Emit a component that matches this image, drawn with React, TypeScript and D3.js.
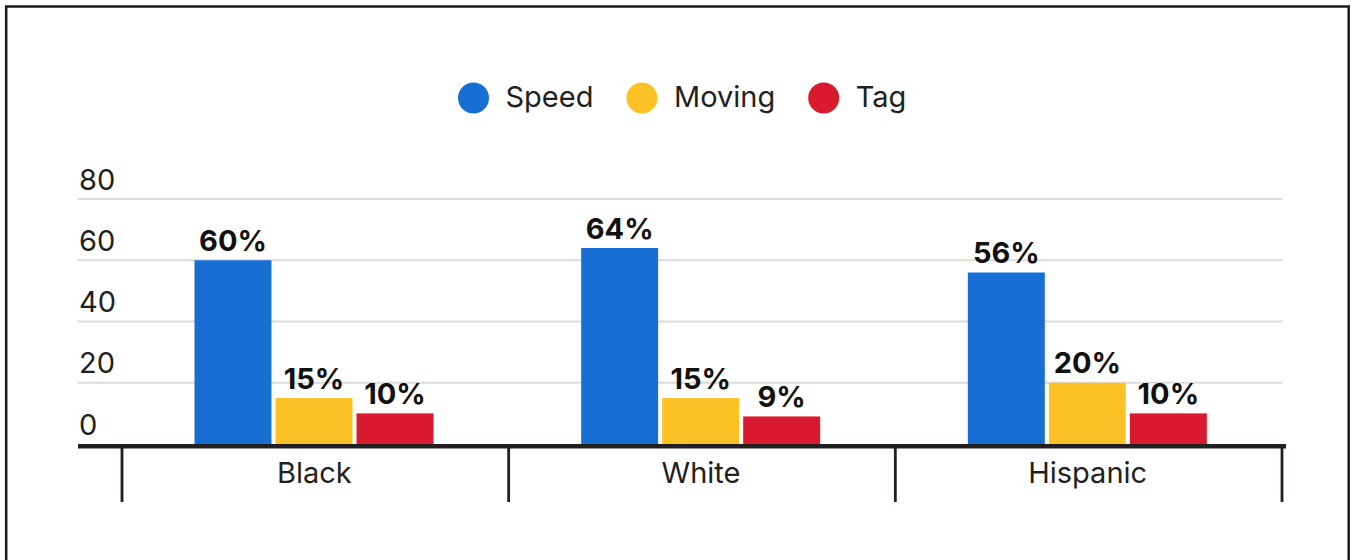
import React, { useEffect, useRef } from "react";
import * as d3 from "d3";

const categories = ["Black", "White", "Hispanic"];
const seriesNames = ["Speed", "Moving", "Tag"];
const speedValues = [60, 64, 56];
const movingValues = [15, 15, 20];
const tagValues = [10, 9, 10];
const seriesColors = ["#176ed3", "#fcc124", "#d91a2e"];
const yTicks = [0, 20, 40, 60, 80];

const W = 1351;
const H = 560;
const FONT = "Inter, 'Noto Sans', sans-serif";

export default function App() {
  const ref = useRef<SVGSVGElement | null>(null);

  useEffect(() => {
    const svg = d3.select(ref.current);
    svg.selectAll("*").remove();

    const valuesBySeries = [speedValues, movingValues, tagValues];

    // outer frame
    svg
      .append("rect")
      .attr("x", 6.2)
      .attr("y", 6.5)
      .attr("width", 1342.5)
      .attr("height", H + 20)
      .attr("fill", "#fff")
      .attr("stroke", "#1c1c1c")
      .attr("stroke-width", 2.5);

    const y = d3.scaleLinear().domain([0, 80]).range([444, 199]);
    const x0 = d3.scaleBand<string>().domain(categories).range([122, 1282]).padding(0);
    const x1 = d3
      .scaleBand<string>()
      .domain(seriesNames)
      .range([72.5, 72.5 + 239])
      .paddingInner(0.05)
      .paddingOuter(0);

    // gridlines and y tick labels
    const grid = svg.append("g");
    grid
      .selectAll("line")
      .data(yTicks.filter((t) => t > 0))
      .join("line")
      .attr("x1", 78)
      .attr("x2", 1282)
      .attr("y1", (d) => y(d))
      .attr("y2", (d) => y(d))
      .attr("stroke", "#dcdcdc")
      .attr("stroke-width", 2);
    grid
      .selectAll("text")
      .data(yTicks)
      .join("text")
      .attr("x", 79)
      .attr("y", (d) => y(d) - 9.5)
      .attr("font-family", FONT)
      .attr("font-size", 29)
      .attr("fill", "#231f20")
      .text((d) => String(d));

    // bars and value labels
    const groups = svg
      .append("g")
      .selectAll("g")
      .data(categories)
      .join("g")
      .attr("transform", (d) => `translate(${x0(d)},0)`);

    groups.each(function (cat, ci) {
      const g = d3.select(this);
      const rows = seriesNames.map((s, si) => ({ s, v: valuesBySeries[si][ci], c: seriesColors[si] }));
      g.selectAll("rect")
        .data(rows)
        .join("rect")
        .attr("x", (d) => x1(d.s)!)
        .attr("width", x1.bandwidth())
        .attr("y", (d) => y(d.v))
        .attr("height", (d) => y(0) - y(d.v))
        .attr("fill", (d) => d.c);
      g.selectAll("text")
        .data(rows)
        .join("text")
        .attr("x", (d) => x1(d.s)! + x1.bandwidth() / 2)
        .attr("y", (d) => y(d.v) - 9.5)
        .attr("text-anchor", "middle")
        .attr("font-family", FONT)
        .attr("font-size", 29)
        .attr("font-weight", 700)
        .attr("fill", "#111")
        .text((d) => `${d.v}%`);
    });

    // baseline and category axis
    svg
      .append("line")
      .attr("x1", 78)
      .attr("x2", 1286)
      .attr("y1", y(0) + 2.3)
      .attr("y2", y(0) + 2.3)
      .attr("stroke", "#231f20")
      .attr("stroke-width", 4.5);

    const edges = [...categories.map((c) => x0(c)!), x0.range()[1]];
    svg
      .append("g")
      .selectAll("line")
      .data(edges)
      .join("line")
      .attr("x1", (d) => d)
      .attr("x2", (d) => d)
      .attr("y1", y(0) + 3)
      .attr("y2", 502)
      .attr("stroke", "#231f20")
      .attr("stroke-width", 2.8);

    svg
      .append("g")
      .selectAll("text")
      .data(categories)
      .join("text")
      .attr("x", (d) => x0(d)! + x0.bandwidth() / 2 - 1)
      .attr("y", 483)
      .attr("text-anchor", "middle")
      .attr("font-family", FONT)
      .attr("font-size", 29)
      .attr("fill", "#231f20")
      .text((d) => d);

    // legend
    const legend = svg.append("g");
    let cx = 473.5;
    seriesNames.forEach((name, i) => {
      legend
        .append("circle")
        .attr("cx", cx)
        .attr("cy", 98)
        .attr("r", 15.5)
        .attr("fill", seriesColors[i]);
      const t = legend
        .append("text")
        .attr("x", cx + 32)
        .attr("y", 106.5)
        .attr("font-family", FONT)
        .attr("font-size", 29)
        .attr("fill", "#231f20")
        .text(name);
      const w = (t.node() as SVGTextElement).getComputedTextLength();
      cx = cx + 32 + w + 33 + 15.5;
    });
  }, []);

  return (
    <svg
      ref={ref}
      width={W}
      height={H}
      style={{ position: "absolute", left: 0, top: 0, background: "#fff" }}
    />
  );
}
